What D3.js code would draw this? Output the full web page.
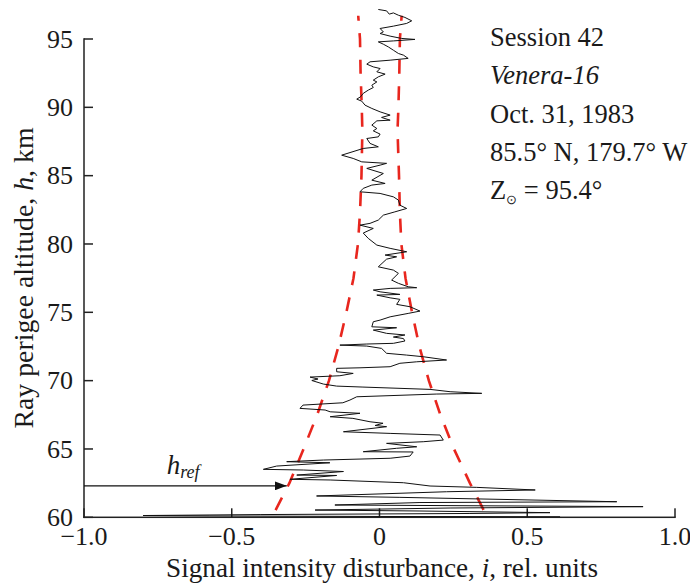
<!DOCTYPE html>
<html>
<head>
<meta charset="utf-8">
<script src="https://cdn.jsdelivr.net/npm/d3@7"></script>
<style>
body { margin: 0; background: #fff; }
svg text { font-family: "Liberation Serif", "Times New Roman", serif; fill: #1a1a1a; }
</style>
</head>
<body>
<svg class="profile" width="690" height="585"></svg>
<script>
// tick values
const altTicks = [60, 65, 70, 75, 80, 85, 90, 95];
const distTicks = [-1, -0.5, 0, 0.5, 1];

// measured profile: [altitude km, disturbance]
const profile = [
  [97.16,-0.004],[97.06,0.024],[96.82,0.033],[96.91,0.047],[96.74,0.064],[96.58,0.086],[96.33,0.109],[96.14,0.092],
  [95.94,0.047],[95.77,0.002],[95.52,0.013],[95.40,0.002],[95.21,0.036],[95.04,0.075],[94.97,0.120],[94.86,0.047],
  [94.79,-0.004],[94.62,0.013],[94.42,0.030],[94.18,0.047],[93.94,0.064],[93.82,0.081],[93.58,0.097],[93.45,0.036],
  [93.33,-0.032],[93.16,-0.043],[92.96,-0.021],[92.84,0.002],[92.60,-0.009],[92.43,0.019],[92.23,-0.004],[91.99,-0.021],
  [91.86,-0.009],[91.62,-0.026],[91.45,-0.021],[91.26,-0.038],[91.02,-0.055],[90.77,-0.064],[90.60,-0.077],[90.45,-0.060],
  [90.16,-0.049],[89.92,-0.026],[89.67,0.002],[89.43,0.036],[89.26,0.007],[89.06,0.036],[89.01,-0.009],[88.70,-0.026],
  [88.45,-0.009],[88.28,-0.021],[88.04,0.002],[87.84,-0.004],[87.72,-0.043],[87.36,-0.032],[87.11,-0.004],[86.99,-0.055],
  [86.50,-0.128],[86.26,-0.089],[86.01,-0.060],[85.90,0.024],[85.77,0.002],[85.53,-0.043],[85.16,0.013],[84.67,-0.026],
  [84.43,0.019],[84.31,-0.026],[84.07,-0.055],[83.82,-0.066],[83.70,0.002],[83.45,0.047],[83.21,0.064],[82.84,0.069],
  [82.60,0.092],[82.35,0.052],[82.11,0.013],[81.75,-0.004],[81.51,-0.032],[81.38,-0.066],[81.14,-0.021],[80.80,-0.055],
  [80.41,-0.038],[79.92,-0.009],[79.68,0.036],[79.43,0.092],[79.19,0.019],[79.06,0.058],[78.89,0.024],[78.33,-0.004],
  [78.09,0.047],[77.85,0.064],[77.36,0.041],[77.12,0.064],[76.87,0.097],[76.80,0.126],[76.75,0.036],[76.63,-0.021],
  [76.50,0.002],[76.31,0.069],[76.26,-0.009],[76.06,0.036],[75.95,0.069],[75.58,0.058],[75.41,0.103],[75.09,0.137],
  [74.92,0.097],[74.67,0.036],[74.43,0.002],[74.31,-0.021],[73.94,-0.026],[73.87,0.058],[73.70,-0.021],[73.46,0.024],
  [73.34,0.086],[73.19,0.047],[73.08,0.081],[72.90,0.086],[72.73,0.047],[72.68,-0.043],[72.60,-0.134],[72.53,-0.043],
  [72.36,0.007],[72.00,0.024],[71.87,0.092],[71.75,0.148],[71.51,0.227],[71.38,0.126],[71.27,0.069],[71.02,0.036],
  [70.94,-0.066],[70.90,-0.145],[70.65,-0.145],[70.53,-0.089],[70.36,-0.134],[70.26,-0.235],[70.12,-0.208],[70.01,-0.229],
  [69.75,-0.190],[69.60,-0.145],[69.53,-0.056],[69.36,0.171],[69.19,0.239],[69.07,0.346],[69.02,0.194],[68.82,-0.077],
  [68.58,-0.100],[68.38,-0.124],[68.21,-0.259],[67.97,-0.269],[67.85,-0.184],[67.72,-0.167],[67.61,-0.066],[67.36,-0.167],
  [67.24,-0.090],[66.99,-0.032],[66.88,0.012],[66.72,-0.015],[66.63,0.024],[66.26,-0.122],[66.14,0.036],[66.02,0.205],
  [65.65,0.216],[65.53,0.148],[65.41,0.024],[65.16,0.126],[65.05,0.058],[64.80,-0.055],[64.78,0.114],[64.48,0.103],
  [64.32,0.036],[64.19,-0.190],[64.07,-0.314],[63.99,-0.168],[63.75,-0.348],[63.51,-0.393],[63.46,-0.258],[63.35,-0.122],
  [63.09,-0.280],[63.06,-0.145],[62.78,-0.303],[62.73,-0.167],[62.53,0.081],[62.29,0.171],[62.19,0.329],[62.00,0.527],
  [61.87,0.227],[61.56,-0.213],[61.46,0.069],[61.14,0.803],[61.08,0.137],[60.90,-0.151],[60.78,0.892],[60.68,0.239],
  [60.53,-0.218],[60.46,0.137],[60.34,0.577],[60.28,0.306],[60.20,-0.404],[60.13,-0.800],[60.10,-0.574],[60.06,0.002],
  [60.04,0.611]
];

// dashed envelope
const envAlt   = [96.7, 95, 92.5, 90, 88.3, 85, 82.3, 80, 77.5, 75, 72.5, 70, 67.5, 65, 62.5, 60];
const envLeft  = [-0.072, -0.066, -0.064, -0.060, -0.058, -0.061, -0.066, -0.073, -0.088, -0.112, -0.139, -0.171, -0.211, -0.257, -0.305, -0.364];
const envRight = [0.075, 0.069, 0.067, 0.064, 0.061, 0.066, 0.069, 0.074, 0.088, 0.110, 0.135, 0.167, 0.206, 0.252, 0.306, 0.365];

const hRef = 62.3, hRefTip = -0.314;
const infoLines = ["Session 42", "Venera-16", "Oct. 31, 1983", "85.5° N, 179.7° W"];
const zenith = "95.4°";

var serif = "Liberation Serif";

var svg = d3.select("svg.profile"),
    margin = {top: 39, right: 15, bottom: 67.7, left: 84},
    width = +svg.attr("width") - margin.left - margin.right,
    height = +svg.attr("height") - margin.top - margin.bottom,
    g = svg.append("g").attr("transform", "translate(" + margin.left + "," + margin.top + ")");

var x = d3.scaleLinear().domain([-1, 1]).range([0, width]);
var y = d3.scaleLinear().domain([60, 95]).range([height, 0]);

var fmtX = function(d) { return d === 0 ? "0" : d3.format(".1f")(d); };

// axes as thin filled bars (left spine, bottom spine, inward ticks)
var lw = 1.5, tl = 9;
var axisG = g.append("g").attr("fill", "#222");
axisG.append("rect")
    .attr("x", -lw / 2).attr("y", y(95) - lw / 2)
    .attr("width", lw).attr("height", y(60) - y(95) + lw);
axisG.append("rect")
    .attr("x", -lw / 2).attr("y", y(60) - lw / 2)
    .attr("width", x(1) - x(-1) + lw).attr("height", lw);
axisG.selectAll("rect.yt")
    .data(altTicks)
  .enter().append("rect")
    .attr("class", "yt")
    .attr("x", 0).attr("y", function(d) { return y(d) - lw / 2; })
    .attr("width", tl).attr("height", lw);
axisG.selectAll("rect.xt")
    .data(distTicks)
  .enter().append("rect")
    .attr("class", "xt")
    .attr("x", function(d) { return x(d) - lw / 2; }).attr("y", y(60) - tl)
    .attr("width", lw).attr("height", tl);

// tick labels
g.selectAll("text.ylab")
    .data(altTicks)
  .enter().append("text")
    .attr("class", "ylab")
    .attr("x", -11)
    .attr("y", function(d) { return y(d); })
    .attr("dy", "0.34em")
    .attr("text-anchor", "end")
    .attr("font-family", serif)
    .attr("font-size", 26)
    .text(d3.format("d"));

g.selectAll("text.xlab")
    .data(distTicks)
  .enter().append("text")
    .attr("class", "xlab")
    .attr("x", function(d) { return x(d); })
    .attr("y", height + 28)
    .attr("text-anchor", "middle")
    .attr("font-family", serif)
    .attr("font-size", 26)
    .text(fmtX);

// envelope
[envLeft, envRight].forEach(function(env) {
    var line = d3.line()
        .x(function(d, i) { return x(env[i]); })
        .y(function(d) { return y(d); });
    g.append("path")
        .datum(envAlt)
        .attr("fill", "none")
        .attr("stroke", "#e8261e")
        .attr("stroke-width", 2.6)
        .attr("stroke-dasharray", "14,12.5")
        .attr("stroke-dashoffset", 9)
        .attr("d", line);
});

// profile
g.append("path")
    .datum(profile)
    .attr("fill", "none")
    .attr("stroke", "#111")
    .attr("stroke-width", 1)
    .attr("stroke-linejoin", "round")
    .attr("d", d3.line()
        .x(function(d) { return x(d[1]); })
        .y(function(d) { return y(d[0]); }));

// h_ref arrow
svg.append("defs").append("marker")
    .attr("id", "arrow")
    .attr("markerUnits", "userSpaceOnUse")
    .attr("markerWidth", 12).attr("markerHeight", 9)
    .attr("refX", 12).attr("refY", 4.5)
    .attr("orient", "auto")
  .append("path")
    .attr("d", "M0,0L12,4.5L0,9Z")
    .attr("fill", "#111");

g.append("line")
    .attr("x1", x(-1)).attr("x2", x(hRefTip))
    .attr("y1", y(hRef)).attr("y2", y(hRef))
    .attr("stroke", "#111").attr("stroke-width", 1.3)
    .attr("marker-end", "url(#arrow)");

var hl = g.append("text")
    .attr("x", x(-0.72)).attr("y", y(hRef) - 12)
    .attr("font-family", serif)
    .attr("font-size", 27).attr("font-style", "italic");
hl.append("tspan").text("h");
hl.append("tspan").attr("font-size", 18).attr("dy", 4.5).text("ref");

// info block
var info = svg.append("g").attr("font-size", 26.5).attr("font-family", serif);
infoLines.forEach(function(t, i) {
    info.append("text")
        .attr("x", 490).attr("y", 46 + i * 38.3)
        .attr("font-style", i === 1 ? "italic" : null)
        .text(t);
});
var zt = info.append("text").attr("x", 490).attr("y", 46 + 4 * 38.3);
zt.append("tspan").text("Z");
zt.append("tspan").attr("font-size", 13).attr("dy", 5).text("\u2299");
zt.append("tspan").attr("dy", -5).text(" = " + zenith);

// axis titles
var yt = svg.append("text")
    .attr("transform", "translate(33,278) rotate(-90)")
    .attr("text-anchor", "middle")
    .attr("font-family", serif)
    .attr("font-size", 27.8);
yt.append("tspan").text("Ray perigee altitude, ");
yt.append("tspan").attr("font-style", "italic").text("h");
yt.append("tspan").text(", km");

var xt = svg.append("text")
    .attr("x", 382).attr("y", 577)
    .attr("text-anchor", "middle")
    .attr("font-family", serif)
    .attr("font-size", 27.2);
xt.append("tspan").text("Signal intensity disturbance, ");
xt.append("tspan").attr("font-style", "italic").text("i");
xt.append("tspan").text(", rel. units");
</script>
</body>
</html>
